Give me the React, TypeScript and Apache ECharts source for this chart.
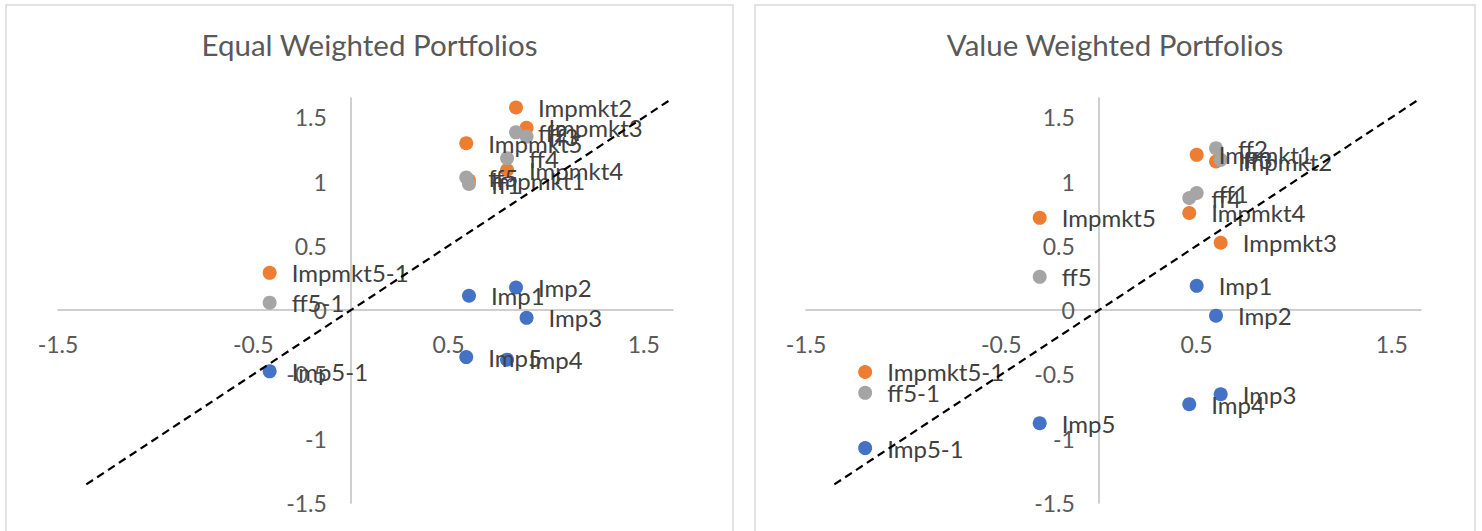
import React, { useEffect, useRef } from "react";
import * as echarts from "echarts";

const categories = ["1", "2", "3", "4", "5", "5-1"];

// Equal weighted portfolios
const ewX = [0.605, 0.846, 0.9, 0.8, 0.591, -0.416];
const ewImpmkt = [1.009, 1.576, 1.419, 1.09, 1.298, 0.29];
const ewFF = [0.981, 1.383, 1.35, 1.182, 1.032, 0.058];
const ewImp = [0.112, 0.176, -0.06, -0.385, -0.365, -0.476];

// Value weighted portfolios
const vwX = [0.501, 0.6, 0.624, 0.463, -0.303, -1.197];
const vwImpmkt = [1.208, 1.156, 0.524, 0.756, 0.718, -0.481];
const vwFF = [0.911, 1.259, 1.169, 0.872, 0.259, -0.643];
const vwImp = [0.189, -0.043, -0.654, -0.731, -0.88, -1.073];

const diagonal = [-1.355, 1.645];

const titles = ["Equal Weighted Portfolios", "Value Weighted Portfolios"];
const seriesNames = ["Impmkt", "ff", "Imp"];
const seriesColors = ["#ED7D31", "#A5A5A5", "#4472C4"];

const AXIS_MIN = -1.5;
const AXIS_MAX = 1.65;

const FONT = "Lato, 'Open Sans', sans-serif";

function pts(xs: number[], ys: number[], prefix: string) {
  return xs.map((x, i) => ({ value: [x, ys[i]], name: prefix + categories[i] }));
}

export default function App() {
  const ref = useRef<HTMLDivElement>(null);
  useEffect(() => {
    if (!ref.current) return;
    const chart = echarts.init(ref.current, undefined, { renderer: "svg" });
    const panels = [
      { x: ewX, ys: [ewImpmkt, ewFF, ewImp] },
      { x: vwX, ys: [vwImpmkt, vwFF, vwImp] },
    ];
    const gridLefts = [58, 806];
    const gridW = 615;
    const gridH = 405;
    const span = AXIS_MAX - AXIS_MIN;
    const zeroFromLeft = ((0 - AXIS_MIN) / span) * gridW;
    const zeroFromBottom = ((0 - AXIS_MIN) / span) * gridH;
    const centers = [369.5, 1115];
    const series: any[] = [];
    panels.forEach((p, gi) => {
      [0, 1, 2].forEach((si) => {
        series.push({
          type: "scatter",
          name: seriesNames[si],
          xAxisIndex: gi,
          yAxisIndex: gi,
          symbol: "circle",
          symbolSize: 14,
          itemStyle: { color: seriesColors[si], opacity: 1 },
          label: {
            show: true,
            position: "right",
            distance: 15,
            formatter: "{b}",
            color: "#404040",
            fontFamily: FONT,
            fontSize: 24,
          },
          data: pts(p.x, p.ys[si], seriesNames[si]),
          z: 3,
        });
      });
      series.push({
        type: "line",
        xAxisIndex: gi,
        yAxisIndex: gi,
        symbol: "none",
        lineStyle: { color: "#000", width: 2.2, type: [8, 5] },
        data: [
          [diagonal[0], diagonal[0]],
          [diagonal[1], diagonal[1]],
        ],
        z: 4,
        silent: true,
      });
    });
    const axisCommon = {
      type: "value",
      min: AXIS_MIN,
      max: AXIS_MAX,
      axisLine: { show: true, onZero: false, lineStyle: { color: "#BFBFBF", width: 1.5 } },
      axisTick: { show: false },
      splitLine: { show: false },
    };
    chart.setOption({
      animation: false,
      backgroundColor: "#ffffff",
      title: titles.map((t, i) => ({
        text: t,
        left: centers[i],
        top: 29,
        padding: 0,
        textAlign: "center",
        textStyle: { fontFamily: FONT, fontSize: 29.5, fontWeight: "normal", color: "#595959" },
      })),
      grid: gridLefts.map((l) => ({ left: l, top: 98, width: gridW, height: gridH })),
      xAxis: [0, 1].map((i) => ({
        ...axisCommon,
        gridIndex: i,
        position: "bottom",
        offset: -zeroFromBottom,
        interval: 1,
        axisLabel: {
          showMaxLabel: false,
          margin: 22,
          color: "#595959",
          fontFamily: FONT,
          fontSize: 23,
        },
      })),
      yAxis: [0, 1].map((i) => ({
        ...axisCommon,
        gridIndex: i,
        position: "left",
        offset: -zeroFromLeft,
        interval: 0.5,
        axisLabel: {
          showMaxLabel: false,
          margin: 24,
          color: "#595959",
          fontFamily: FONT,
          fontSize: 23,
        },
      })),
      graphic: [
        {
          type: "rect",
          shape: { x: 6, y: 5, width: 727, height: 560 },
          style: { fill: "none", stroke: "#D9D9D9", lineWidth: 1.5 },
          silent: true,
        },
        {
          type: "rect",
          shape: { x: 755, y: 5, width: 720, height: 560 },
          style: { fill: "none", stroke: "#D9D9D9", lineWidth: 1.5 },
          silent: true,
        },
      ],
      series,
    });
    return () => chart.dispose();
  }, []);
  return (
    <div
      ref={ref}
      style={{ position: "fixed", left: 0, top: 0, width: 1482, height: 531, background: "#fff" }}
    />
  );
}
